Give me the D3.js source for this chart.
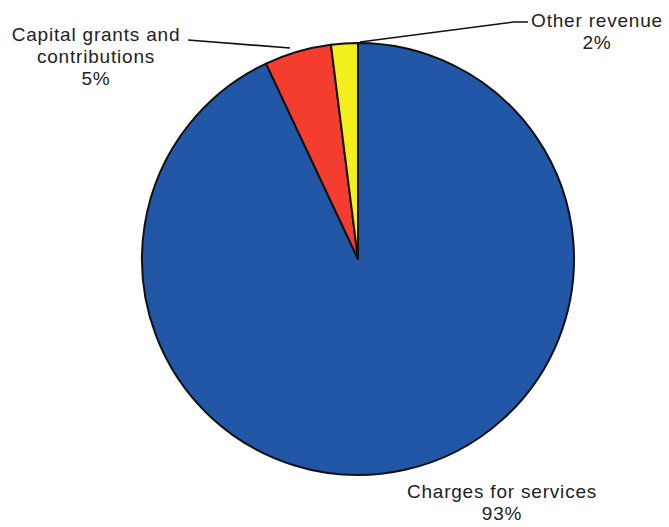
<!DOCTYPE html>
<html>
<head>
<meta charset="utf-8">
<script src="https://cdn.jsdelivr.net/npm/d3@7"></script>
<style>
  html, body { margin: 0; padding: 0; background: #fff; }
  svg { display: block; }
  text { font-family: "Liberation Sans", Arial, sans-serif; fill: #222; }
</style>
</head>
<body>
<svg id="chart" width="669" height="527"></svg>
<script>
// Revenue sources, in drawing order (clockwise from 12 o'clock)
const categories = ["Charges for services", "Capital grants and contributions", "Other revenue"];
const values = [93, 5, 2];
const colors = ["#2157a6", "#f43d2e", "#f3ef1d"];

// Label text lines for each slice
const labelLines = [
  ["Charges for services", "93%"],
  ["Capital grants and", "contributions", "5%"],
  ["Other revenue", "2%"]
];

const svg = d3.select("#chart");
const cx = 358, cy = 259, r = 216;

const data = categories.map((c, i) => ({ name: c, value: values[i], color: colors[i], lines: labelLines[i] }));

const pie = d3.pie().sort(null).value(d => d.value);
const arc = d3.arc().innerRadius(0).outerRadius(r);
const arcs = pie(data);

const g = svg.append("g").attr("transform", `translate(${cx},${cy})`);

g.selectAll("path.slice")
  .data(arcs)
  .join("path")
  .attr("class", "slice")
  .attr("d", arc)
  .attr("fill", d => d.data.color)
  .attr("stroke", "#111")
  .attr("stroke-width", 2)
  .attr("stroke-linejoin", "round");

// Label placements (baseline of first line) and leader lines
const labelPos = [
  { x: 502, y: 498, leader: null },
  { x: 96, y: 41, leader: [[188, 40], [290, 48]] },
  { x: 597, y: 27, leader: [[528, 22], [514, 22], [360, 42]] }
];
const lineGap = 22;

arcs.forEach((a, i) => {
  const p = labelPos[i];
  const t = svg.append("text")
    .attr("text-anchor", "middle")
    .attr("font-size", 19)
    .attr("letter-spacing", 0.8);
  a.data.lines.forEach((ln, j) => {
    t.append("tspan").attr("x", p.x).attr("y", p.y + j * lineGap).text(ln);
  });
  if (p.leader) {
    svg.append("path")
      .attr("d", d3.line()(p.leader))
      .attr("fill", "none")
      .attr("stroke", "#111")
      .attr("stroke-width", 1.6);
  }
});
</script>
</body>
</html>
